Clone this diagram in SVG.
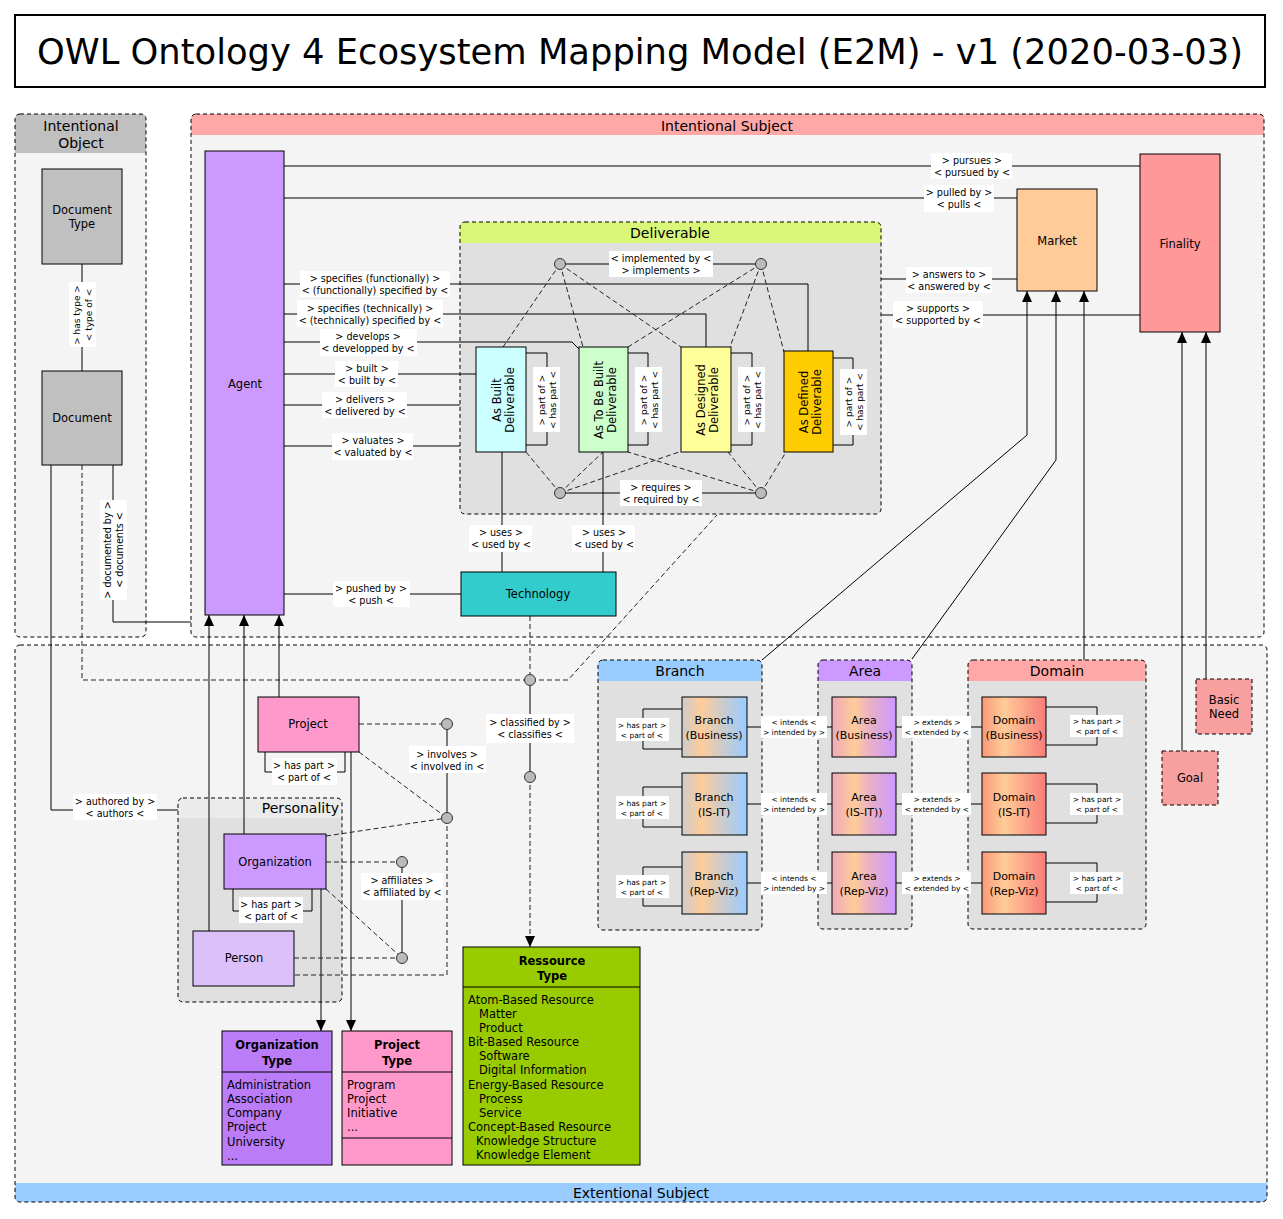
<svg xmlns="http://www.w3.org/2000/svg" width="1283" height="1219" viewBox="0 0 1283 1219">
<defs>
<style>
text{font-family:"DejaVu Sans",sans-serif;fill:#000}
.cb{fill:none;stroke:#000;stroke-dasharray:4 3}
.n{stroke:#000;stroke-width:1}
.nd{stroke:#000;stroke-width:1;stroke-dasharray:4 3}
.s{fill:none;stroke:#000}
.d{fill:none;stroke:#222;stroke-dasharray:5 3}
.lb{fill:#fff}
.t{font-size:9.6px;text-anchor:middle}
.tr{font-size:9px;text-anchor:middle}
.ts{font-size:7.5px;text-anchor:middle}
.tn{font-size:11.5px;text-anchor:middle}
.tv{font-size:11.5px;text-anchor:middle}
.th{font-size:14px;text-anchor:middle}
.ti{font-size:11.5px}
.tb{font-size:11.5px;font-weight:bold;text-anchor:middle}
.ci{fill:#bbb;stroke:#333}
.a{marker-end:url(#ar)}
</style>
<marker id="ar" markerUnits="userSpaceOnUse" markerWidth="12" markerHeight="10" refX="11" refY="5" orient="auto"><path d="M0,0 L11,5 L0,10 z" fill="#000"/></marker>
<linearGradient id="gB" x1="0" y1="0" x2="1" y2="0"><stop offset="0" stop-color="#cccccc"/><stop offset="0.3" stop-color="#ffcc99"/><stop offset="0.62" stop-color="#cccccc"/><stop offset="1" stop-color="#99ccff"/></linearGradient>
<linearGradient id="gA" x1="0" y1="0" x2="1" y2="0"><stop offset="0" stop-color="#eeaabb"/><stop offset="0.35" stop-color="#ffcc99"/><stop offset="0.6" stop-color="#e8b0c8"/><stop offset="1" stop-color="#cc99ff"/></linearGradient>
<linearGradient id="gD" x1="0" y1="0" x2="1" y2="0"><stop offset="0" stop-color="#f89a78"/><stop offset="0.35" stop-color="#ffcc99"/><stop offset="1" stop-color="#f87c78"/></linearGradient>
</defs>
<rect width="1283" height="1219" fill="#fff"/>

<g id="title">
<rect x="15" y="15" width="1250" height="72" fill="#fff" stroke="#000" stroke-width="2"/>
<text x="640" y="64" font-size="36" text-anchor="middle" textLength="1206" lengthAdjust="spacingAndGlyphs">OWL Ontology 4 Ecosystem Mapping Model (E2M) - v1 (2020-03-03)</text>
</g>

<g id="intentional-object">
<rect x="15" y="114" width="131" height="523" rx="5" fill="#f4f4f4"/>
<path d="M15,153 V119 Q15,114 20,114 H141 Q146,114 146,119 V153 Z" fill="#c0c0c0"/>
<rect x="15" y="114" width="131" height="523" rx="5" class="cb"/>
<text class="th" x="81" y="131">Intentional</text>
<text class="th" x="81" y="148">Object</text>
</g>
<g id="intentional-subject">
<rect x="191" y="114" width="1073" height="523" rx="5" fill="#f4f4f4"/>
<path d="M191,135 V119 Q191,114 196,114 H1259 Q1264,114 1264,119 V135 Z" fill="#ffa8a8"/>
<rect x="191" y="114" width="1073" height="523" rx="5" class="cb"/>
<text class="th" x="727" y="131">Intentional Subject</text>
</g>
<g id="extentional-subject">
<rect x="15" y="645" width="1252" height="557" rx="5" fill="#f4f4f4"/>
<path d="M15,1183 H1267 V1197 Q1267,1202 1262,1202 H20 Q15,1202 15,1197 Z" fill="#99ccff"/>
<rect x="15" y="645" width="1252" height="557" rx="5" class="cb"/>
<text class="th" x="641" y="1198">Extentional Subject</text>
</g>
<g id="deliverable">
<rect x="460" y="222" width="421" height="292" rx="5" fill="#e0e0e0"/>
<path d="M460,243 V227 Q460,222 465,222 H876 Q881,222 881,227 V243 Z" fill="#daf77a"/>
<rect x="460" y="222" width="421" height="292" rx="5" class="cb"/>
<text class="th" x="670" y="238">Deliverable</text>
</g>
<g id="branch">
<rect x="598" y="660" width="164" height="270" rx="5" fill="#e0e0e0"/>
<path d="M598,681 V665 Q598,660 603,660 H757 Q762,660 762,665 V681 Z" fill="#99ccff"/>
<rect x="598" y="660" width="164" height="270" rx="5" class="cb"/>
<text class="th" x="680" y="676">Branch</text>
</g>
<g id="area">
<rect x="818" y="660" width="94" height="269" rx="5" fill="#e0e0e0"/>
<path d="M818,681 V665 Q818,660 823,660 H907 Q912,660 912,665 V681 Z" fill="#cc99ff"/>
<rect x="818" y="660" width="94" height="269" rx="5" class="cb"/>
<text class="th" x="865" y="676">Area</text>
</g>
<g id="domain">
<rect x="968" y="660" width="178" height="269" rx="5" fill="#e0e0e0"/>
<path d="M968,681 V665 Q968,660 973,660 H1141 Q1146,660 1146,665 V681 Z" fill="#ffa8a8"/>
<rect x="968" y="660" width="178" height="269" rx="5" class="cb"/>
<text class="th" x="1057" y="676">Domain</text>
</g>
<g id="personality">
<rect x="178" y="798" width="164" height="204" rx="5" fill="#e0e0e0"/>
<path d="M178,818 V803 Q178,798 183,798 H337 Q342,798 342,803 V818 Z" fill="#ebebeb"/>
<rect x="178" y="798" width="164" height="204" rx="5" class="cb"/>
<text class="th" x="339" y="813" style="text-anchor:end">Personality</text>
</g>

<g id="connectors">
<path class="s" d="M82,264 V371"/>
<path class="s" d="M51,465 V810 H178"/>
<path class="s" d="M113,465 V622 H191"/>
<path class="d" d="M82,465 V680 H568 L717,515"/>
<path class="s" d="M284,166 H1140"/>
<path class="s" d="M284,198 H1017"/>
<path class="s" d="M284,284 H808 V351"/>
<path class="s" d="M284,314 H706 V347"/>
<path class="s" d="M284,342 H572 L579,349"/>
<path class="s" d="M284,374 H476"/>
<path class="s" d="M284,405 H460"/>
<path class="s" d="M284,446 H460"/>
<path class="s" d="M284,594 H461"/>
<path class="s" d="M502,452 V572"/>
<path class="s" d="M603,452 V572"/>
<path class="s" d="M881,279 H1017"/>
<path class="s" d="M881,315 H1140"/>
<path class="s" d="M526,353 H547 V445 H526"/>
<path class="s" d="M628,353 H648 V445 H628"/>
<path class="s" d="M731,353 H752 V445 H731"/>
<path class="s" d="M833,358 H853 V445 H833"/>
<path class="s" d="M560,264 H761"/>
<path class="s" d="M560,493 H761"/>
<path class="d" d="M560,264 L503,347 M560,264 L583,347 M560,264 L681,347"/>
<path class="d" d="M761,264 L628,347 M761,264 L730,347 M761,264 L784,352"/>
<path class="d" d="M560,493 L526,452 M560,493 L603,452 M560,493 L679,452"/>
<path class="d" d="M761,493 L628,452 M761,493 L728,452 M761,493 L786,452"/>
<path class="d" d="M530,616 V680"/>
<path class="s" d="M530,680 V777"/>
<path class="d a" d="M530,777 V947"/>
<path class="s a" d="M762,660 L1027,435 V291"/>
<path class="s a" d="M912,659 L1056,460 V291"/>
<path class="s a" d="M1084,660 V291"/>
<path class="s a" d="M1182,751 V332"/>
<path class="s a" d="M1206,679 V332"/>
<path class="s" d="M682,709 H643 V749 H682"/>
<path class="s" d="M682,787 H643 V827 H682"/>
<path class="s" d="M682,867 H643 V906 H682"/>
<path class="s" d="M747,727 H832 M747,804 H832 M747,883 H832"/>
<path class="s" d="M896,727 H982 M896,804 H982 M896,883 H982"/>
<path class="s" d="M1046,707 H1097 V745 H1046"/>
<path class="s" d="M1046,784 H1097 V823 H1046"/>
<path class="s" d="M1046,863 H1097 V902 H1046"/>
<path class="s a" d="M209,931 V615"/>
<path class="s a" d="M244,834 V615"/>
<path class="s a" d="M279,697 V615"/>
<path class="s" d="M265,752 V772 H345 V752"/>
<path class="s" d="M233,889 V911 H312 V889"/>
<path class="s a" d="M321,889 V1031"/>
<path class="s a" d="M351,752 V1031"/>
<path class="d" d="M359,724 H447 M359,752 L447,818 M326,836 L447,818 M447,818 V975 H294"/>
<path class="s" d="M447,724 V818"/>
<path class="d" d="M326,862 H402 M326,889 L402,958 M294,958 H402"/>
<path class="s" d="M402,862 V958"/>
<circle class="ci" cx="560" cy="264" r="5.5"/>
<circle class="ci" cx="761" cy="264" r="5.5"/>
<circle class="ci" cx="560" cy="493" r="5.5"/>
<circle class="ci" cx="761" cy="493" r="5.5"/>
<circle class="ci" cx="530" cy="680" r="5.5"/>
<circle class="ci" cx="530" cy="777" r="5.5"/>
<circle class="ci" cx="447" cy="724" r="5.5"/>
<circle class="ci" cx="447" cy="818" r="5.5"/>
<circle class="ci" cx="402" cy="862" r="5.5"/>
<circle class="ci" cx="402" cy="958" r="5.5"/>
<rect class="lb" x="69" y="282" width="27" height="65"/>
<g transform="translate(82,315) rotate(-90)"><text class="tr" y="-2">&gt; has type &gt;</text><text class="tr" y="10">&lt; type of &lt;</text></g>
<rect class="lb" x="100" y="500" width="27" height="100"/>
<g transform="translate(113,550) rotate(-90)"><text class="t" y="-2">&gt; documented by &gt;</text><text class="t" y="10">&lt; documents &lt;</text></g>
<rect class="lb" x="73" y="794" width="84" height="26"/>
<text class="t" x="115" y="805">&gt; authored by &gt;</text><text class="t" x="115" y="817">&lt; authors &lt;</text>
<rect class="lb" x="931" y="153" width="81" height="26"/>
<text class="t" x="972" y="164">&gt; pursues  &gt;</text><text class="t" x="972" y="176">&lt; pursued by &lt;</text>
<rect class="lb" x="924" y="185" width="70" height="27"/>
<text class="t" x="959" y="196">&gt; pulled by &gt;</text><text class="t" x="959" y="208">&lt; pulls &lt;</text>
<rect class="lb" x="300" y="271" width="150" height="26"/>
<text class="t" x="375" y="282">&gt; specifies (functionally) &gt;</text><text class="t" x="375" y="294">&lt; (functionally) specified by &lt;</text>
<rect class="lb" x="297" y="300" width="146" height="27"/>
<text class="t" x="370" y="312">&gt; specifies (technically) &gt;</text><text class="t" x="370" y="324">&lt; (technically) specified by &lt;</text>
<rect class="lb" x="320" y="329" width="97" height="27"/>
<text class="t" x="368" y="340">&gt; develops &gt;</text><text class="t" x="368" y="352">&lt; developped by &lt;</text>
<rect class="lb" x="335" y="361" width="63" height="26"/>
<text class="t" x="367" y="372">&gt; built &gt;</text><text class="t" x="367" y="384">&lt; built by &lt;</text>
<rect class="lb" x="322" y="392" width="85" height="26"/>
<text class="t" x="365" y="403">&gt; delivers &gt;</text><text class="t" x="365" y="415">&lt; delivered by &lt;</text>
<rect class="lb" x="332" y="433" width="81" height="27"/>
<text class="t" x="373" y="444">&gt; valuates &gt;</text><text class="t" x="373" y="456">&lt; valuated by &lt;</text>
<rect class="lb" x="333" y="581" width="77" height="26"/>
<text class="t" x="371" y="592">&gt; pushed by &gt;</text><text class="t" x="371" y="604">&lt; push &lt;</text>
<rect class="lb" x="469" y="525" width="63" height="27"/>
<text class="t" x="501" y="536">&gt; uses &gt;</text><text class="t" x="501" y="548">&lt; used by &lt;</text>
<rect class="lb" x="572" y="525" width="63" height="27"/>
<text class="t" x="604" y="536">&gt; uses &gt;</text><text class="t" x="604" y="548">&lt; used by &lt;</text>
<rect class="lb" x="906" y="267" width="86" height="26"/>
<text class="t" x="949" y="278">&gt; answers to &gt;</text><text class="t" x="949" y="290">&lt; answered by &lt;</text>
<rect class="lb" x="893" y="301" width="90" height="27"/>
<text class="t" x="938" y="312">&gt; supports &gt;</text><text class="t" x="938" y="324">&lt; supported by &lt;</text>
<rect class="lb" x="609" y="251" width="104" height="26"/>
<text class="t" x="661" y="262">&lt; implemented by &lt;</text><text class="t" x="661" y="274">&gt; implements &gt;</text>
<rect class="lb" x="620" y="480" width="82" height="26"/>
<text class="t" x="661" y="491">&gt; requires &gt;</text><text class="t" x="661" y="503">&lt; required by &lt;</text>
<rect class="lb" x="533" y="367" width="27" height="65"/>
<g transform="translate(547,400) rotate(-90)"><text class="tr" y="-2">&gt; part of &gt;</text><text class="tr" y="9">&lt; has part &lt;</text></g>
<rect class="lb" x="635" y="367" width="27" height="65"/>
<g transform="translate(649,400) rotate(-90)"><text class="tr" y="-2">&gt; part of &gt;</text><text class="tr" y="9">&lt; has part &lt;</text></g>
<rect class="lb" x="738" y="367" width="27" height="65"/>
<g transform="translate(752,400) rotate(-90)"><text class="tr" y="-2">&gt; part of &gt;</text><text class="tr" y="9">&lt; has part &lt;</text></g>
<rect class="lb" x="840" y="369" width="27" height="66"/>
<g transform="translate(854,402) rotate(-90)"><text class="tr" y="-2">&gt; part of &gt;</text><text class="tr" y="9">&lt; has part &lt;</text></g>
<rect class="lb" x="486" y="714" width="88" height="29"/>
<text class="t" x="530" y="726">&gt; classified by &gt;</text><text class="t" x="530" y="738">&lt; classifies &lt;</text>
<rect class="lb" x="409" y="746" width="77" height="27"/>
<text class="t" x="447" y="758">&gt; involves &gt;</text><text class="t" x="447" y="770">&lt; involved in &lt;</text>
<rect class="lb" x="361" y="873" width="82" height="27"/>
<text class="t" x="402" y="884">&gt; affiliates &gt;</text><text class="t" x="402" y="896">&lt; affiliated by &lt;</text>
<rect class="lb" x="272" y="758" width="65" height="27"/>
<text class="t" x="304" y="769">&gt; has part &gt;</text><text class="t" x="304" y="781">&lt; part of &lt;</text>
<rect class="lb" x="239" y="897" width="64" height="26"/>
<text class="t" x="271" y="908">&gt; has part &gt;</text><text class="t" x="271" y="920">&lt; part of &lt;</text>
<rect class="lb" x="616" y="718" width="53" height="23"/>
<text class="ts" x="642" y="728">&gt; has part &gt;</text><text class="ts" x="642" y="738">&lt; part of &lt;</text>
<rect class="lb" x="616" y="796" width="53" height="23"/>
<text class="ts" x="642" y="806">&gt; has part &gt;</text><text class="ts" x="642" y="816">&lt; part of &lt;</text>
<rect class="lb" x="616" y="875" width="53" height="23"/>
<text class="ts" x="642" y="885">&gt; has part &gt;</text><text class="ts" x="642" y="895">&lt; part of &lt;</text>
<rect class="lb" x="761" y="716" width="66" height="22"/>
<text class="ts" x="794" y="725">&lt; intends &lt;</text><text class="ts" x="794" y="735">&gt; intended by &gt;</text>
<rect class="lb" x="761" y="793" width="66" height="22"/>
<text class="ts" x="794" y="802">&lt; intends &lt;</text><text class="ts" x="794" y="812">&gt; intended by &gt;</text>
<rect class="lb" x="761" y="872" width="66" height="22"/>
<text class="ts" x="794" y="881">&lt; intends &lt;</text><text class="ts" x="794" y="891">&gt; intended by &gt;</text>
<rect class="lb" x="902" y="716" width="69" height="22"/>
<text class="ts" x="937" y="725">&gt; extends &gt;</text><text class="ts" x="937" y="735">&lt; extended by &lt;</text>
<rect class="lb" x="902" y="793" width="69" height="22"/>
<text class="ts" x="937" y="802">&gt; extends &gt;</text><text class="ts" x="937" y="812">&lt; extended by &lt;</text>
<rect class="lb" x="902" y="872" width="69" height="22"/>
<text class="ts" x="937" y="881">&gt; extends &gt;</text><text class="ts" x="937" y="891">&lt; extended by &lt;</text>
<rect class="lb" x="1070" y="715" width="53" height="22"/>
<text class="ts" x="1097" y="724">&gt; has part &gt;</text><text class="ts" x="1097" y="734">&lt; part of &lt;</text>
<rect class="lb" x="1070" y="793" width="53" height="22"/>
<text class="ts" x="1097" y="802">&gt; has part &gt;</text><text class="ts" x="1097" y="812">&lt; part of &lt;</text>
<rect class="lb" x="1070" y="872" width="53" height="22"/>
<text class="ts" x="1097" y="881">&gt; has part &gt;</text><text class="ts" x="1097" y="891">&lt; part of &lt;</text>
</g>

<g id="document-type"><rect class="n" x="42" y="169" width="80" height="95" fill="#c0c0c0"/><text class="tn" x="82" y="214">Document</text><text class="tn" x="82" y="228">Type</text></g>
<g id="document"><rect class="n" x="42" y="371" width="80" height="94" fill="#c0c0c0"/><text class="tn" x="82" y="422">Document</text></g>
<g id="agent"><rect class="n" x="205" y="151" width="79" height="464" fill="#cc99ff"/><text class="tn" x="245" y="388">Agent</text></g>
<g id="market"><rect class="n" x="1017" y="189" width="80" height="102" fill="#ffcc99"/><text class="tn" x="1057" y="245">Market</text></g>
<g id="finality"><rect class="n" x="1140" y="154" width="80" height="178" fill="#ff9999"/><text class="tn" x="1180" y="248">Finality</text></g>
<g id="technology"><rect class="n" x="461" y="572" width="155" height="44" fill="#33cccc"/><text class="tn" x="538" y="598">Technology</text></g>
<g id="as-built"><rect class="n" x="476" y="347" width="50" height="105" fill="#ccffff"/><g transform="translate(501,400) rotate(-90)"><text class="tv" y="0">As Built</text><text class="tv" y="13">Deliverable</text></g></g>
<g id="as-to-be-built"><rect class="n" x="579" y="347" width="49" height="105" fill="#ccffcc"/><g transform="translate(603,400) rotate(-90)"><text class="tv" y="0">As To Be Built</text><text class="tv" y="13">Deliverable</text></g></g>
<g id="as-designed"><rect class="n" x="681" y="347" width="50" height="105" fill="#ffff99"/><g transform="translate(705,400) rotate(-90)"><text class="tv" y="0">As Designed</text><text class="tv" y="13">Deliverable</text></g></g>
<g id="as-defined"><rect class="n" x="784" y="351" width="49" height="101" fill="#ffcc00"/><g transform="translate(808,402) rotate(-90)"><text class="tv" y="0">As Defined</text><text class="tv" y="13">Deliverable</text></g></g>

<g id="branch-business"><rect class="n" x="682" y="697" width="65" height="60" fill="url(#gB)"/><text class="tn" x="714" y="724" style="font-size:11px">Branch</text><text class="tn" x="714" y="739" style="font-size:11px">(Business)</text></g>
<g id="branch-is-it"><rect class="n" x="682" y="773" width="65" height="62" fill="url(#gB)"/><text class="tn" x="714" y="801" style="font-size:11px">Branch</text><text class="tn" x="714" y="816" style="font-size:11px">(IS-IT)</text></g>
<g id="branch-rep-viz"><rect class="n" x="682" y="852" width="65" height="62" fill="url(#gB)"/><text class="tn" x="714" y="880" style="font-size:11px">Branch</text><text class="tn" x="714" y="895" style="font-size:11px">(Rep-Viz)</text></g>
<g id="area-business"><rect class="n" x="832" y="697" width="64" height="60" fill="url(#gA)"/><text class="tn" x="864" y="724" style="font-size:11px">Area</text><text class="tn" x="864" y="739" style="font-size:11px">(Business)</text></g>
<g id="area-is-it"><rect class="n" x="832" y="773" width="64" height="62" fill="url(#gA)"/><text class="tn" x="864" y="801" style="font-size:11px">Area</text><text class="tn" x="864" y="816" style="font-size:11px">(IS-IT))</text></g>
<g id="area-rep-viz"><rect class="n" x="832" y="852" width="64" height="62" fill="url(#gA)"/><text class="tn" x="864" y="880" style="font-size:11px">Area</text><text class="tn" x="864" y="895" style="font-size:11px">(Rep-Viz)</text></g>
<g id="domain-business"><rect class="n" x="982" y="697" width="64" height="60" fill="url(#gD)"/><text class="tn" x="1014" y="724" style="font-size:11px">Domain</text><text class="tn" x="1014" y="739" style="font-size:11px">(Business)</text></g>
<g id="domain-is-it"><rect class="n" x="982" y="773" width="64" height="62" fill="url(#gD)"/><text class="tn" x="1014" y="801" style="font-size:11px">Domain</text><text class="tn" x="1014" y="816" style="font-size:11px">(IS-IT)</text></g>
<g id="domain-rep-viz"><rect class="n" x="982" y="852" width="64" height="62" fill="url(#gD)"/><text class="tn" x="1014" y="880" style="font-size:11px">Domain</text><text class="tn" x="1014" y="895" style="font-size:11px">(Rep-Viz)</text></g>

<g id="goal"><rect class="nd" x="1162" y="751" width="56" height="54" fill="#f8a0a0"/><text class="tn" x="1190" y="782">Goal</text></g>
<g id="basic-need"><rect class="nd" x="1196" y="679" width="56" height="55" fill="#f8a0a0"/><text class="tn" x="1224" y="704">Basic</text><text class="tn" x="1224" y="718">Need</text></g>

<g id="project"><rect class="n" x="258" y="697" width="101" height="55" fill="#ff99cc"/><text class="tn" x="308" y="728">Project</text></g>
<g id="organization"><rect class="n" x="224" y="834" width="102" height="55" fill="#cc99ff"/><text class="tn" x="275" y="866">Organization</text></g>
<g id="person"><rect class="n" x="193" y="931" width="101" height="55" fill="#dcc0fa"/><text class="tn" x="244" y="962">Person</text></g>

<g id="organization-type">
<rect class="n" x="222" y="1031" width="110" height="134" fill="#bb7cf8"/>
<text class="tb" x="277" y="1049">Organization</text><text class="tb" x="277" y="1065">Type</text>
<path class="s" d="M222,1072 H332"/>
<text class="ti" x="227" y="1089">Administration</text>
<text class="ti" x="227" y="1103">Association</text>
<text class="ti" x="227" y="1117">Company</text>
<text class="ti" x="227" y="1131">Project</text>
<text class="ti" x="227" y="1146">University</text>
<text class="ti" x="227" y="1160">...</text>
</g>
<g id="project-type">
<rect class="n" x="342" y="1031" width="110" height="134" fill="#ff99cc"/>
<text class="tb" x="397" y="1049">Project</text><text class="tb" x="397" y="1065">Type</text>
<path class="s" d="M342,1072 H452"/>
<text class="ti" x="347" y="1089">Program</text>
<text class="ti" x="347" y="1103">Project</text>
<text class="ti" x="347" y="1117">Initiative</text>
<text class="ti" x="347" y="1131">...</text>
<path class="s" d="M342,1138 H452"/>
</g>
<g id="ressource-type">
<rect class="n" x="463" y="947" width="177" height="218" fill="#99cc00"/>
<text class="tb" x="552" y="965">Ressource</text><text class="tb" x="552" y="980">Type</text>
<path class="s" d="M463,987 H640"/>
<text class="ti" x="468" y="1004">Atom-Based Resource</text>
<text class="ti" x="479" y="1018">Matter</text>
<text class="ti" x="479" y="1032">Product</text>
<text class="ti" x="468" y="1046">Bit-Based Resource</text>
<text class="ti" x="479" y="1060">Software</text>
<text class="ti" x="479" y="1074">Digital Information</text>
<text class="ti" x="468" y="1089">Energy-Based Resource</text>
<text class="ti" x="479" y="1103">Process</text>
<text class="ti" x="479" y="1117">Service</text>
<text class="ti" x="468" y="1131">Concept-Based Resource</text>
<text class="ti" x="476" y="1145">Knowledge Structure</text>
<text class="ti" x="476" y="1159">Knowledge Element</text>
</g>
</svg>
